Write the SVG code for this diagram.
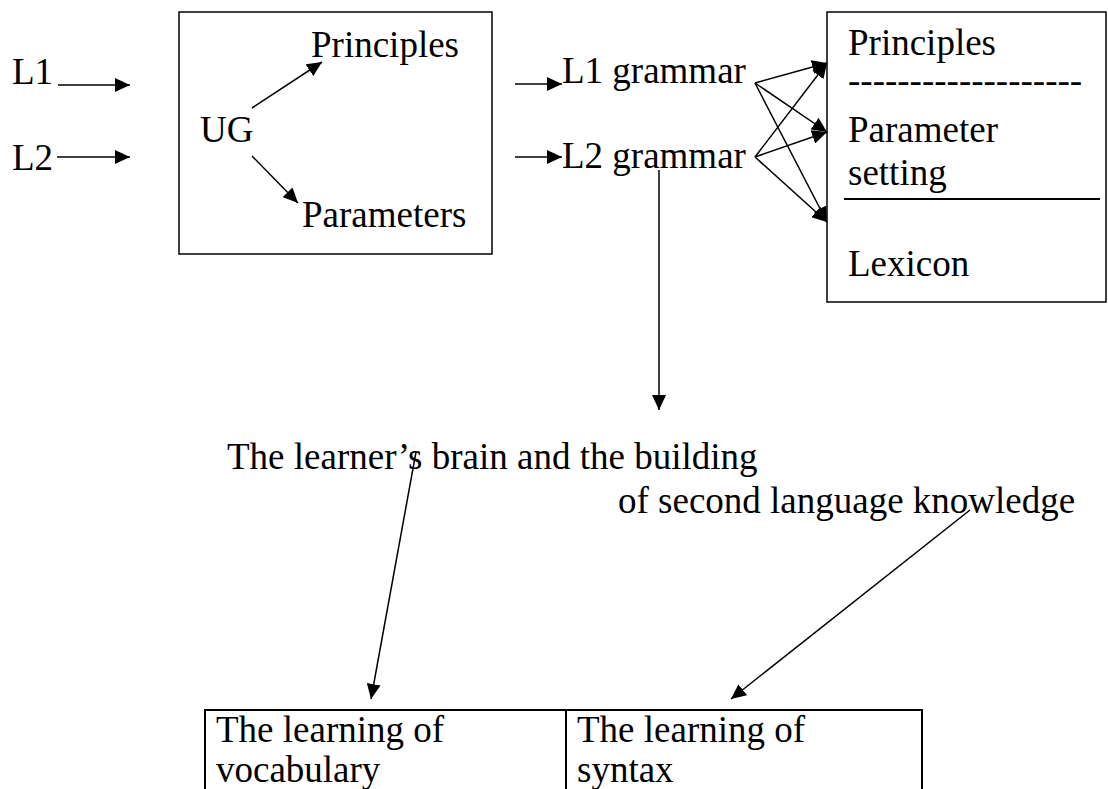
<svg xmlns="http://www.w3.org/2000/svg" width="1108" height="789" viewBox="0 0 1108 789">
<defs>
<marker id="ah" markerUnits="userSpaceOnUse" markerWidth="16" markerHeight="14" refX="15" refY="7" orient="auto">
<path d="M0,0 L15,7 L0,14 z" fill="#000"/>
</marker>
<style>
text{font-family:"Liberation Serif","Times New Roman",serif;font-size:37px;fill:#000}
.box{fill:none;stroke:#000;stroke-width:1.5}
.tb{fill:none;stroke:#000;stroke-width:2}
.ln{fill:none;stroke:#000;stroke-width:1.5}
.ar{fill:none;stroke:#000;stroke-width:1.5;marker-end:url(#ah)}
</style>
</defs>
<rect width="1108" height="789" fill="#fff"/>
<g id="l1"><text x="12" y="84">L1</text></g>
<g id="l2"><text x="12" y="170">L2</text></g>
<g id="ug-box">
<rect class="box" x="179" y="12" width="313" height="242"/>
<text x="200" y="142">UG</text>
<text x="311" y="57">Principles</text>
<text x="302" y="227">Parameters</text>
</g>
<g id="l1-grammar"><text x="562" y="83">L1 grammar</text></g>
<g id="l2-grammar"><text x="562" y="168">L2 grammar</text></g>
<g id="grammar-box">
<rect class="box" x="827" y="12" width="279" height="290"/>
<text x="848" y="55">Principles</text>
<text x="848" y="93">-------------------</text>
<text x="848" y="142">Parameter</text>
<text x="848" y="185">setting</text>
<line class="tb" x1="844" y1="199" x2="1100" y2="199"/>
<text x="848" y="276">Lexicon</text>
</g>
<g id="brain">
<text x="227" y="469">The learner’s brain and the building</text>
<text x="618" y="513">of second language knowledge</text>
</g>
<g id="table">
<rect class="tb" x="205" y="710" width="717" height="100"/>
<line class="tb" x1="566" y1="710" x2="566" y2="789"/>
<text x="216" y="742">The learning of</text>
<text x="216" y="782">vocabulary</text>
<text x="577" y="742">The learning of</text>
<text x="577" y="782">syntax</text>
</g>
<g id="connectors">
<line class="ar" x1="58" y1="85" x2="130" y2="85"/>
<line class="ar" x1="57" y1="157" x2="130" y2="157"/>
<line class="ar" x1="252" y1="108" x2="322" y2="62"/>
<line class="ar" x1="252" y1="156" x2="298" y2="203"/>
<line class="ar" x1="515" y1="84" x2="562" y2="84"/>
<line class="ar" x1="515" y1="157" x2="562" y2="157"/>
<line class="ar" x1="755" y1="83" x2="827" y2="63"/>
<line class="ar" x1="755" y1="83" x2="827" y2="132"/>
<line class="ar" x1="755" y1="83" x2="827" y2="222"/>
<line class="ar" x1="755" y1="157" x2="827" y2="63"/>
<line class="ar" x1="755" y1="157" x2="827" y2="132"/>
<line class="ar" x1="755" y1="157" x2="827" y2="222"/>
<line class="ar" x1="659" y1="170" x2="659" y2="410"/>
<line class="ar" x1="416" y1="452" x2="371" y2="699"/>
<line class="ar" x1="970" y1="510" x2="731" y2="699"/>
</g>
</svg>
